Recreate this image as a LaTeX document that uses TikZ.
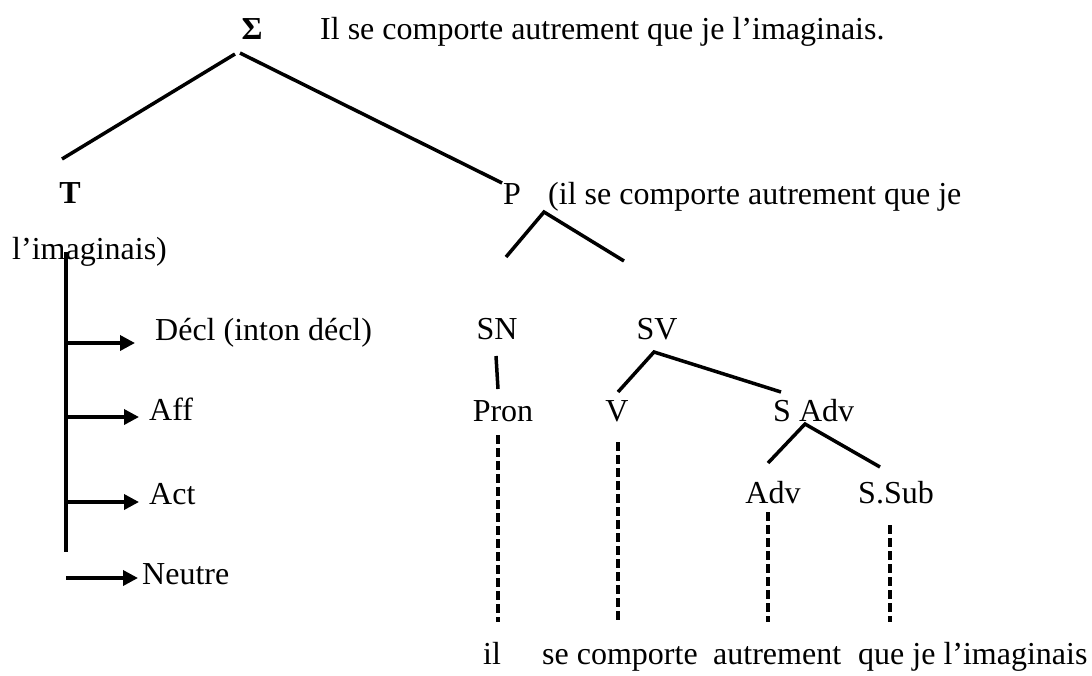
\documentclass[tikz,border=0pt]{standalone}
\usepackage{fontspec}
\setmainfont{Liberation Serif}
\usetikzlibrary{arrows.meta}
\begin{document}
\begin{tikzpicture}[x=1pt,y=-1pt,
  lbl/.style={inner sep=0pt,font=\fontsize{32}{38}\selectfont},
  edge/.style={line width=3.5pt},
  dashedge/.style={line width=3.5pt,dash pattern=on 9pt off 4pt},
  arr/.style={line width=3.5pt,-{Triangle[length=15pt,width=15pt]}}]
\useasboundingbox (0,0) rectangle (1092,675);
% labels
\node[lbl,anchor=base] (sigma) at (252,39) {\bfseries Σ};
\node[lbl,anchor=base west] (phrase) at (320,39) {Il se comporte autrement que je l’imaginais.};
\node[lbl,anchor=base] (T) at (70,203) {\bfseries T};
\node[lbl,anchor=base west] (P) at (503,204) {P};
\node[lbl,anchor=base west] (Ptext) at (548,204) {(il se comporte autrement que je};
\node[lbl,anchor=base west] (Ptext2) at (12,259) {l’imaginais)};
\node[lbl,anchor=base west] (decl) at (155,340) {Décl (inton décl)};
\node[lbl,anchor=base west] (aff) at (149,420) {Aff};
\node[lbl,anchor=base west] (act) at (149,504) {Act};
\node[lbl,anchor=base west] (neutre) at (142,584) {Neutre};
\node[lbl,anchor=base] (SN) at (497,339) {SN};
\node[lbl,anchor=base] (SV) at (657,339) {SV};
\node[lbl,anchor=base] (pron) at (503,421) {Pron};
\node[lbl,anchor=base] (V) at (617,421) {V};
\node[lbl,anchor=base west] (sadv) at (773,421) {S Adv};
\node[lbl,anchor=base] (adv) at (773,503) {Adv};
\node[lbl,anchor=base west] (ssub) at (858,503) {S.Sub};
\node[lbl,anchor=base] (w1) at (492,664) {il};
\node[lbl,anchor=base west] (w2) at (542,664) {se comporte};
\node[lbl,anchor=base west] (w3) at (713,664) {autrement};
\node[lbl,anchor=base west] (w4) at (858,664) {que je l’imaginais};
% connector end points
\coordinate (sigL) at (235,54);
\coordinate (sigR) at (240,53);
\coordinate (Tt) at (62,159);
\coordinate (Pt) at (502,183);
\coordinate (Pa) at (544,212);
\coordinate (PL) at (506,257);
\coordinate (PR) at (624,261);
\coordinate (SNb) at (496,356);
\coordinate (pront) at (498,389);
\coordinate (SVa) at (654,352);
\coordinate (Vt) at (618,392);
\coordinate (sadvt) at (781,392);
\coordinate (sadva) at (805,424);
\coordinate (advt) at (768,463);
\coordinate (ssubt) at (880,467);
\coordinate (pronb) at (498,435);
\coordinate (w1t) at (498,622);
\coordinate (Vb) at (618,442);
\coordinate (w2t) at (618,622);
\coordinate (advb) at (768,512);
\coordinate (w3t) at (768,622);
\coordinate (ssubb) at (890,525);
\coordinate (w4t) at (890,622);
\coordinate (vtop) at (66,252);
\coordinate (vbot) at (66,552);
\coordinate (a1) at (68,343);
\coordinate (a1e) at (135,343);
\coordinate (a2) at (68,417);
\coordinate (a2e) at (139,417);
\coordinate (a3) at (68,502);
\coordinate (a3e) at (139,502);
\coordinate (a4) at (66,578);
\coordinate (a4e) at (138,578);
% tree edges
\draw[edge] (sigL) -- (Tt);
\draw[edge] (sigR) -- (Pt);
\draw[edge] (PL) -- (Pa) -- (PR);
\draw[edge] (SNb) -- (pront);
\draw[edge] (Vt) -- (SVa) -- (sadvt);
\draw[edge] (advt) -- (sadva) -- (ssubt);
\draw[dashedge] (pronb) -- (w1t);
\draw[dashedge] (Vb) -- (w2t);
\draw[dashedge] (advb) -- (w3t);
\draw[dashedge] (ssubb) -- (w4t);
% T branch
\draw[edge] (vtop) -- (vbot);
\draw[arr] (a1) -- (a1e);
\draw[arr] (a2) -- (a2e);
\draw[arr] (a3) -- (a3e);
\draw[arr] (a4) -- (a4e);
\end{tikzpicture}
\end{document}
